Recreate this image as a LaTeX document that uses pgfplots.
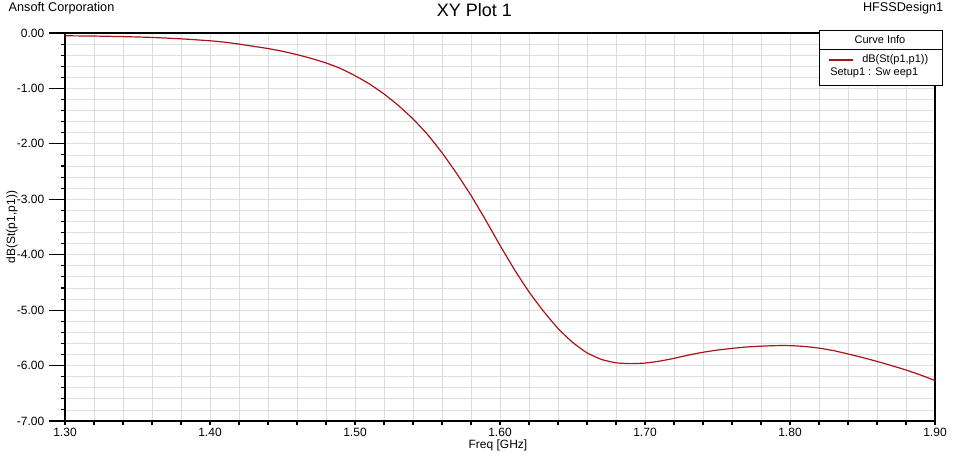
\documentclass[border=0pt]{standalone}
\usepackage{fontspec}
\setmainfont{Liberation Sans}
\usepackage{pgfplots}
\pgfplotsset{compat=1.18}

\definecolor{curve}{RGB}{170,20,25}
\definecolor{gridc}{RGB}{222,222,222}

\pgfplotstableread{
f     db
1.30 -0.050
1.32 -0.055
1.34 -0.065
1.36 -0.080
1.38 -0.105
1.40 -0.140
1.41 -0.165
1.42 -0.200
1.43 -0.240
1.44 -0.280
1.45 -0.330
1.46 -0.390
1.47 -0.460
1.48 -0.540
1.49 -0.640
1.50 -0.770
1.51 -0.920
1.52 -1.100
1.53 -1.310
1.54 -1.550
1.55 -1.830
1.56 -2.160
1.57 -2.530
1.58 -2.930
1.59 -3.370
1.60 -3.830
1.61 -4.270
1.62 -4.670
1.63 -5.020
1.64 -5.330
1.65 -5.580
1.66 -5.770
1.67 -5.890
1.68 -5.950
1.69 -5.965
1.70 -5.955
1.71 -5.920
1.72 -5.870
1.73 -5.810
1.74 -5.760
1.75 -5.720
1.76 -5.690
1.77 -5.665
1.78 -5.650
1.79 -5.640
1.80 -5.640
1.81 -5.655
1.82 -5.685
1.83 -5.730
1.84 -5.790
1.85 -5.855
1.86 -5.925
1.87 -6.000
1.88 -6.080
1.89 -6.170
1.90 -6.270
}\sdata

\begin{document}
\begin{tikzpicture}
\path[use as bounding box] (-48.75pt,-25.5pt) rectangle (666.75pt,315.75pt);
\begin{axis}[
  at={(0,0)}, anchor=south west,
  scale only axis,
  width=652.5pt, height=291pt,
  xmin=1.3, xmax=1.9, ymin=-7, ymax=0,
  xtick={1.3,1.4,...,1.9},
  ytick={-7,-6,...,0},
  minor x tick num=4,
  minor y tick num=4,
  grid=both,
  major grid style={gridc, line width=0.6pt},
  minor grid style={gridc, line width=0.6pt},
  axis line style={black, line width=1.1pt},
  tick style={black, line width=0.8pt},
  tick align=outside,
  xtick pos=bottom, ytick pos=left,
  major tick length=3pt, minor tick length=3pt,
  extra y ticks={-7,-6,...,0},
  extra y tick labels={},
  extra tick style={major tick length=12pt, grid=none},
  tick label style={font=\fontsize{9}{10}\selectfont},
  /pgf/number format/assume math mode=true,
  /pgf/number format/.cd, fixed, fixed zerofill, precision=2, /pgfplots/.cd,
  yticklabel style={xshift=-9pt},
  xticklabel style={yshift=1pt},
]
  \addplot[curve, line width=0.9pt, smooth, tension=0.3, no marks] table[x=f, y=db] {\sdata};
\end{axis}
% titles and labels
\node[anchor=west, font=\fontsize{9.5}{11}\selectfont] at (-45.75pt,309.75pt) {Ansoft Corporation};
\node[font=\fontsize{13.5}{15}\selectfont] at (307.1pt,308.25pt) {XY Plot 1};
\node[anchor=east, font=\fontsize{9.5}{11}\selectfont] at (662.25pt,309.75pt) {HFSSDesign1};
\node[font=\fontsize{9}{10}\selectfont] at (324.75pt,-18pt) {Freq [GHz]};
\node[rotate=90, font=\fontsize{9}{10}\selectfont] at (-39.75pt,145.5pt) {dB(St(p1,p1))};
% curve info box
\draw[black, line width=0.7pt, fill=white] (565.5pt,252pt) rectangle (657.75pt,293.25pt);
\draw[black, line width=0.6pt] (565.5pt,279pt) -- (657.75pt,279pt);
\node[font=\fontsize{8.25}{9}\selectfont] at (611.25pt,285.75pt) {Curve Info};
\draw[curve, line width=1.2pt] (573pt,270.75pt) -- (591pt,270.75pt);
\node[anchor=west, inner sep=0pt, font=\fontsize{8.25}{9}\selectfont] at (597.75pt,270.75pt) {dB(St(p1,p1))};
\node[anchor=west, inner sep=0pt, font=\fontsize{8.25}{9}\selectfont] at (573.75pt,261pt) {Setup1 : Sw eep1};
\end{tikzpicture}
\end{document}
